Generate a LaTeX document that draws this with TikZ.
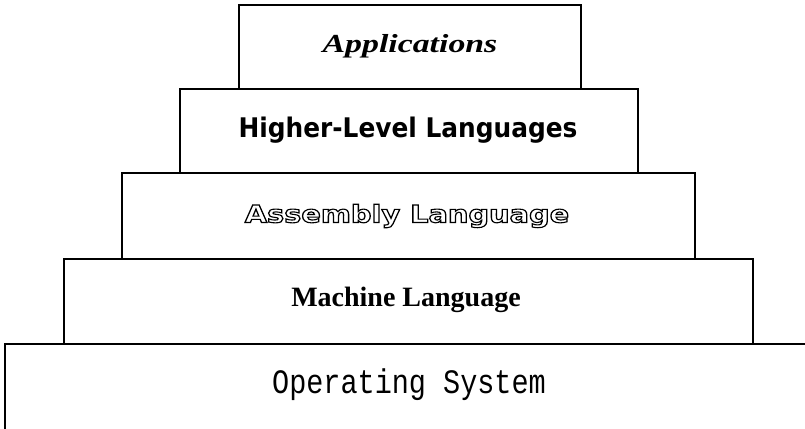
\documentclass[tikz,border=0pt]{standalone}
\usepackage{fontspec}
\setmainfont{Liberation Serif}
\newfontfamily\appfont{Liberation Serif}
\newfontfamily\hllfont{DejaVu Sans}
\newfontfamily\asmfont{DejaVu Sans}
\newfontfamily\machfont{Liberation Serif}
\newfontfamily\osfont{Liberation Mono}
% hollow (stroked, unfilled) lettering through the PDF text render mode
\newcommand{\hollowtext}[1]{\special{pdf:code q 1 Tr 1.1 w}#1\special{pdf:code Q}}

\tikzset{
  layer/.style={draw=black, line width=1.6pt, fill=white, inner sep=0pt,
    minimum height=#1, anchor=north west},
  label/.style={inner sep=0pt, anchor=center}
}

\begin{document}
\begin{tikzpicture}[x=1pt, y=-1pt]
\useasboundingbox (0,0) rectangle (805,428);

% base layer runs off the right and bottom edges
\node[layer=110pt, minimum width=830pt] (os)  at (4,343) {};
\node[layer=85pt,  minimum width=689pt] (mach) at (63,258) {};
\node[layer=86pt,  minimum width=573pt] (asm)  at (121,172) {};
\node[layer=84pt,  minimum width=458pt] (hll)  at (179,88) {};
\node[layer=84pt,  minimum width=342pt] (app)  at (238,4) {};

\node[label] (tapp)  at (410,46)
  {\scalebox{1.3}[1]{\appfont\bfseries\itshape\fontsize{26}{26}\selectfont Applications}};
\node[label] (thll)  at (408,130)
  {\scalebox{0.92}[1]{\hllfont\bfseries\fontsize{27}{27}\selectfont Higher-Level Languages}};
\node[label] (tasm)  at (407,216)
  {\scalebox{1.2}[1]{\asmfont\bfseries\fontsize{24}{24}\selectfont\hollowtext{Assembly Language}}};
\node[label] (tmach) at (406,300)
  {\machfont\bfseries\fontsize{28}{28}\selectfont Machine Language};
\node[label] (tos)   at (409,385)
  {\scalebox{1.0}[1.2]{\osfont\fontsize{28.5}{28.5}\selectfont Operating System}};
\end{tikzpicture}
\end{document}
